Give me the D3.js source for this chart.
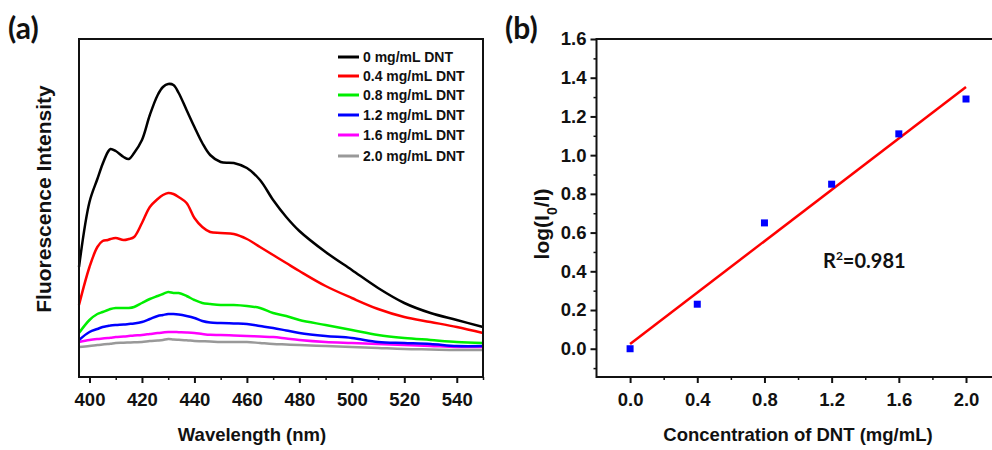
<!DOCTYPE html>
<html>
<head>
<meta charset="utf-8">
<script src="https://cdn.jsdelivr.net/npm/d3@7/dist/d3.min.js"></script>
<style>
  body { margin: 0; background: #fff; }
  svg { display: block; }
  .tick text { font-family: "Liberation Sans", Arial, sans-serif; font-weight: bold; font-size: 18.5px; fill: #111; }
  .ttl { font-family: "Liberation Sans", Arial, sans-serif; font-weight: bold; font-size: 18.5px; fill: #111; }
  .lab { font-family: Lato, "Open Sans", sans-serif; font-weight: bold; font-size: 30px; fill: #111; }
</style>
</head>
<body>
<div id="chart"></div>
<script>
// Panel (a): fluorescence spectra (arbitrary units)
var wavelength = [396, 400, 403, 405, 407, 408, 410, 413, 415, 417, 420, 423, 426, 428, 430, 432, 434, 437, 440, 443, 446, 450, 455, 460, 465, 470, 475, 480, 490, 500, 510, 520, 530, 540, 550];
var series = ["0 mg/mL DNT", "0.4 mg/mL DNT", "0.8 mg/mL DNT", "1.2 mg/mL DNT", "1.6 mg/mL DNT", "2.0 mg/mL DNT"];
var colors = ["#000000", "#ff0000", "#00ee00", "#0000ff", "#ff00ff", "#999999"];
var i0   = [1100, 1750, 1980, 2130, 2250, 2280, 2260, 2200, 2180, 2240, 2370, 2620, 2820, 2900, 2930, 2920, 2840, 2670, 2500, 2340, 2220, 2150, 2140, 2090, 1970, 1770, 1600, 1460, 1250, 1070, 890, 740, 640, 570, 500];
var i04  = [720, 1100, 1300, 1360, 1370, 1380, 1390, 1370, 1380, 1400, 1540, 1700, 1780, 1820, 1840, 1830, 1800, 1740, 1590, 1500, 1450, 1440, 1430, 1380, 1300, 1220, 1140, 1060, 910, 790, 680, 600, 550, 500, 440];
var i08  = [440, 570, 630, 650, 670, 680, 690, 690, 690, 700, 740, 780, 810, 830, 850, 840, 840, 810, 770, 740, 730, 720, 720, 710, 690, 640, 610, 570, 520, 470, 420, 390, 370, 350, 340];
var i12  = [370, 450, 480, 500, 510, 515, 520, 525, 530, 535, 550, 580, 610, 620, 630, 630, 625, 610, 590, 560, 545, 540, 535, 530, 510, 490, 465, 440, 410, 390, 350, 340, 330, 310, 310];
var i16  = [350, 370, 380, 385, 390, 392, 400, 405, 410, 415, 420, 430, 440, 445, 450, 450, 448, 445, 440, 430, 422, 420, 415, 410, 405, 400, 385, 370, 350, 340, 330, 320, 310, 300, 300];
var i20  = [300, 310, 320, 325, 330, 332, 340, 342, 345, 348, 350, 360, 365, 370, 380, 375, 372, 368, 360, 358, 355, 350, 350, 350, 340, 330, 325, 320, 310, 300, 290, 280, 275, 270, 270];
var spectra = [i0, i04, i08, i12, i16, i20];
var xTicksA = [400, 420, 440, 460, 480, 500, 520, 540];
var xMinorA = [410, 430, 450, 470, 490, 510, 530, 550];

// Panel (b): quenching vs concentration
var conc = [0, 0.4, 0.8, 1.2, 1.6, 2.0];
var logRatio = [0, 0.23, 0.65, 0.85, 1.11, 1.29];
var xTicksB = [0, 0.4, 0.8, 1.2, 1.6, 2.0];
var xMinorB = [0.2, 0.6, 1.0, 1.4, 1.8, 2.2];
var yTicksB = [0, 0.2, 0.4, 0.6, 0.8, 1.0, 1.2, 1.4, 1.6];
var yMinorB = [-0.1, 0.1, 0.3, 0.5, 0.7, 0.9, 1.1, 1.3, 1.5];
var r2Label = "0.981";

var width = 992, height = 450;
var svg = d3.select("#chart").append("svg")
    .attr("width", width)
    .attr("height", height);

// ---------- panel (a) ----------
var xa = d3.scaleLinear().domain([396, 550]).range([79, 483]);
var ya = d3.scaleLinear().domain([0, 3380]).range([377, 39]);

var gA = svg.append("g");

var lineA = d3.line()
    .x(function(d) { return xa(d[0]); })
    .y(function(d) { return ya(d[1]); })
    .curve(d3.curveCatmullRom);

// draw from lowest to highest so black sits on top
spectra.slice().reverse().forEach(function(s, k) {
    var idx = spectra.length - 1 - k;
    gA.append("path")
        .datum(wavelength.map(function(w, j) { return [w, s[j]]; }))
        .attr("fill", "none")
        .attr("stroke", colors[idx])
        .attr("stroke-width", 2.5)
        .attr("stroke-linejoin", "round")
        .attr("d", lineA);
});

gA.append("rect")
    .attr("x", 79).attr("y", 39)
    .attr("width", 404).attr("height", 338)
    .attr("fill", "none").attr("stroke", "#111").attr("stroke-width", 2);

var axA = gA.append("g").attr("transform", "translate(0,377)")
    .call(d3.axisBottom(xa).tickValues(xTicksA).tickSize(6).tickPadding(10).tickFormat(d3.format("d")));
axA.select(".domain").remove();
axA.selectAll("line").attr("stroke", "#111").attr("stroke-width", 2);

var axAm = gA.append("g").attr("transform", "translate(0,377)")
    .call(d3.axisBottom(xa).tickValues(xMinorA).tickSize(3).tickFormat(""));
axAm.select(".domain").remove();
axAm.selectAll("line").attr("stroke", "#111").attr("stroke-width", 1.5);

gA.append("text").attr("class", "ttl")
    .attr("x", 252).attr("y", 441).attr("text-anchor", "middle")
    .text("Wavelength (nm)");

gA.append("text").attr("class", "ttl")
    .attr("transform", "translate(51,199) rotate(-90)")
    .attr("text-anchor", "middle")
    .style("font-size", "21px")
    .text("Fluorescence Intensity");

var legend = gA.append("g");
series.forEach(function(name, k) {
    var yy = [57, 76, 95, 115, 135, 156][k];
    legend.append("line")
        .attr("x1", 338).attr("x2", 359)
        .attr("y1", yy).attr("y2", yy)
        .attr("stroke", colors[k]).attr("stroke-width", 3);
    legend.append("text").attr("class", "ttl")
        .attr("x", 363).attr("y", yy + 5)
        .style("font-size", "14px")
        .text(name);
});

gA.append("text").attr("class", "lab").attr("x", 8).attr("y", 39).text("(a)");

// ---------- panel (b) ----------
var xb = d3.scaleLinear().domain([-0.2, 2.2]).range([596.5, 999.6]);
var yb = d3.scaleLinear().domain([-0.146, 1.6]).range([377, 39]);

var gB = svg.append("g");

// least-squares fit line
var mx = d3.mean(conc), my = d3.mean(logRatio);
var sxy = d3.sum(conc, function(c, j) { return (c - mx) * (logRatio[j] - my); });
var sxx = d3.sum(conc, function(c) { return (c - mx) * (c - mx); });
var slope = sxy / sxx, icpt = my - slope * mx;

gB.append("line")
    .attr("x1", xb(0)).attr("y1", yb(icpt))
    .attr("x2", xb(2.0)).attr("y2", yb(icpt + slope * 2.0))
    .attr("stroke", "#ff0000").attr("stroke-width", 2.5);

gB.selectAll(".pt").data(conc).enter().append("rect")
    .attr("class", "pt")
    .attr("x", function(d) { return xb(d) - 3.5; })
    .attr("y", function(d, j) { return yb(logRatio[j]) - 3.5; })
    .attr("width", 7).attr("height", 7)
    .attr("fill", "#0000ff");

gB.append("rect")
    .attr("x", 596.5).attr("y", 39)
    .attr("width", 403).attr("height", 338)
    .attr("fill", "none").attr("stroke", "#111").attr("stroke-width", 2);

var axBx = gB.append("g").attr("transform", "translate(0,377)")
    .call(d3.axisBottom(xb).tickValues(xTicksB).tickSize(6).tickPadding(10).tickFormat(d3.format(".1f")));
axBx.select(".domain").remove();
axBx.selectAll("line").attr("stroke", "#111").attr("stroke-width", 2);
var axBxm = gB.append("g").attr("transform", "translate(0,377)")
    .call(d3.axisBottom(xb).tickValues(xMinorB).tickSize(3).tickFormat(""));
axBxm.select(".domain").remove();
axBxm.selectAll("line").attr("stroke", "#111").attr("stroke-width", 1.5);

var axBy = gB.append("g").attr("transform", "translate(596.5,0)")
    .call(d3.axisLeft(yb).tickValues(yTicksB).tickSize(6).tickPadding(4).tickFormat(d3.format(".1f")));
axBy.select(".domain").remove();
axBy.selectAll("line").attr("stroke", "#111").attr("stroke-width", 2);
var axBym = gB.append("g").attr("transform", "translate(596.5,0)")
    .call(d3.axisLeft(yb).tickValues(yMinorB).tickSize(3).tickFormat(""));
axBym.select(".domain").remove();
axBym.selectAll("line").attr("stroke", "#111").attr("stroke-width", 1.5);

gB.append("text").attr("class", "ttl")
    .attr("x", 798).attr("y", 441).attr("text-anchor", "middle")
    .text("Concentration of DNT (mg/mL)");

var yt = gB.append("text").attr("class", "ttl")
    .attr("transform", "translate(549,224) rotate(-90)")
    .attr("text-anchor", "middle")
    .style("font-size", "21px");
yt.append("tspan").text("log(I");
yt.append("tspan").attr("baseline-shift", "sub").style("font-size", "14px").text("0");
yt.append("tspan").text("/I)");

var r2 = gB.append("text").attr("class", "lab")
    .attr("x", 823).attr("y", 268)
    .style("font-size", "20px");
r2.append("tspan").text("R");
r2.append("tspan").attr("dy", -8).style("font-size", "12px").text("2");
r2.append("tspan").attr("dy", 8).text("=" + r2Label);

gB.append("text").attr("class", "lab").attr("x", 505).attr("y", 39).text("(b)");
</script>
</body>
</html>
